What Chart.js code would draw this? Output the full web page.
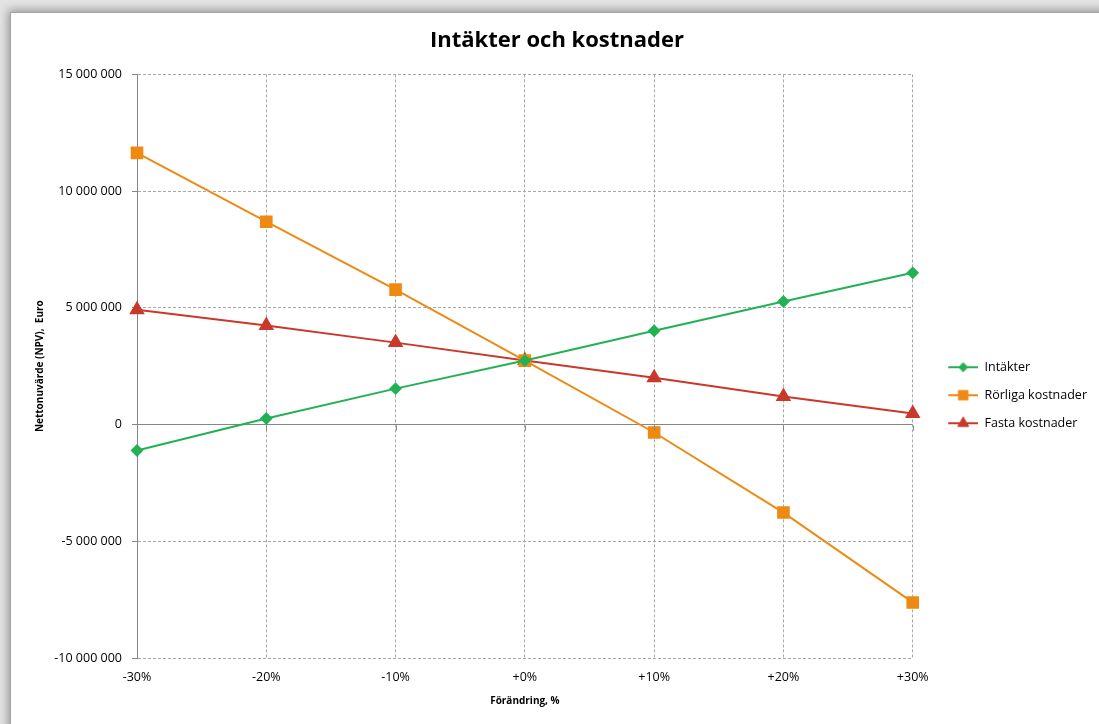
<!DOCTYPE html>
<html>
<head>
<meta charset="utf-8">
<title>Intäkter och kostnader</title>
<script src="https://cdn.jsdelivr.net/npm/chart.js@4/dist/chart.umd.min.js"></script>
<style>
  html, body { margin: 0; padding: 0; }
  body { width: 1099px; height: 724px; overflow: hidden; background: #e4e4e4; position: relative; }
  .frame {
    position: absolute; left: 10px; top: 12px; width: 1120px; height: 740px;
    background: #fff; border: 1px solid #a4a4a4;
    box-shadow: -2px -2px 9px rgba(0, 0, 0, 0.35);
  }
  #chart { position: absolute; left: 0; top: 0; }
</style>
</head>
<body>
<div class="frame"></div>
<canvas id="chart" width="1099" height="724"></canvas>
<script>
const categories = ['-30%', '-20%', '-10%', '+0%', '+10%', '+20%', '+30%'];
const intakter = [-1110000, 260000, 1540000, 2740000, 4020000, 5270000, 6500000];
const rorligaKostnader = [11640000, 8690000, 5780000, 2740000, -340000, -3770000, -7620000];
const fastaKostnader = [4920000, 4240000, 3510000, 2740000, 2010000, 1200000, 470000];

const FONT = "'Open Sans', 'DejaVu Sans', sans-serif";
const GRID = '#a8a8a8';
const AXIS = '#868686';

const fmtSpace = (v) => {
  const s = Math.abs(v).toString().replace(/\B(?=(\d{3})+(?!\d))/g, ' ');
  return (v < 0 ? '-' : '') + s;
};

// legend icon: short line with the series marker in the middle
function legendIcon(color, pointStyle, radius) {
  const c = document.createElement('canvas');
  c.width = 50;
  c.height = 16;
  const g = c.getContext('2d');
  g.strokeStyle = color;
  g.lineWidth = 2;
  g.beginPath();
  g.moveTo(20, 8);
  g.lineTo(50, 8);
  g.stroke();
  g.fillStyle = color;
  g.strokeStyle = color;
  g.lineWidth = 1;
  Chart.helpers.drawPoint(g, { pointStyle, radius, rotation: 0, borderWidth: 1 }, 35, 8);
  return c;
}

const series = [
  { label: 'Intäkter', data: intakter, color: '#22b153', pointStyle: 'rectRot', radius: 5 },
  { label: 'Rörliga kostnader', data: rorligaKostnader, color: '#ee8a12', pointStyle: 'rect', radius: 7.5 },
  { label: 'Fasta kostnader', data: fastaKostnader, color: '#c9392b', pointStyle: 'triangle', radius: 7 }
];

// small solid ticks under the zero line at each category
const zeroTicks = {
  id: 'zeroTicks',
  afterDraw(chart) {
    const { ctx, scales: { x, y } } = chart;
    const y0 = Math.round(y.getPixelForValue(0)) + 0.5;
    ctx.save();
    ctx.strokeStyle = AXIS;
    ctx.lineWidth = 1;
    ctx.beginPath();
    categories.forEach((c, i) => {
      const px = Math.round(x.getPixelForValue(i)) + 0.5;
      ctx.moveTo(px, y0);
      ctx.lineTo(px, y0 + 5);
    });
    ctx.stroke();
    ctx.restore();
  }
};

new Chart(document.getElementById('chart'), {
  type: 'line',
  data: {
    labels: categories,
    datasets: series.map(s => ({
      label: s.label,
      data: s.data,
      borderColor: s.color,
      backgroundColor: s.color,
      pointBackgroundColor: s.color,
      pointBorderColor: s.color,
      pointStyle: s.pointStyle,
      pointRadius: s.radius,
      pointHoverRadius: s.radius,
      borderWidth: 2,
      tension: 0,
      fill: false,
      clip: false
    }))
  },
  options: {
    responsive: false,
    animation: false,
    layout: { padding: { left: 17, top: 14, right: 2, bottom: 13 } },
    plugins: {
      title: {
        display: true,
        text: 'Intäkter och kostnader',
        color: '#000',
        font: { family: FONT, size: 22, weight: 'bold' },
        padding: { top: 14, bottom: 20 }
      },
      legend: {
        position: 'right',
        title: { display: true, text: '', padding: { top: 51, bottom: 0 } },
        labels: {
          color: '#000',
          font: { family: FONT, size: 12.5 },
          usePointStyle: true,
          pointStyleWidth: 50,
          padding: 15.5,
          generateLabels: (chart) => series.map((s, i) => ({
            text: s.label,
            pointStyle: legendIcon(s.color, s.pointStyle, s.radius * 0.9),
            fillStyle: s.color,
            strokeStyle: s.color,
            lineWidth: 0,
            fontColor: '#000',
            hidden: false,
            datasetIndex: i
          }))
        }
      },
      tooltip: { enabled: false }
    },
    scales: {
      x: {
        offset: false,
        afterFit: (scale) => { scale.height = 53; },
        grid: {
          color: GRID,
          drawTicks: false
        },
        border: { display: false, dash: [3, 2] },
        ticks: {
          color: '#000',
          padding: 12,
          maxRotation: 0,
          font: { family: FONT, size: 12.5 }
        },
        title: {
          display: true,
          text: 'Förändring, %',
          color: '#000',
          font: { family: FONT, size: 10, weight: 'bold' },
          padding: { top: 0, bottom: 4 }
        }
      },
      y: {
        min: -10000000,
        max: 15000000,
        afterFit: (scale) => { scale.width = 120; },
        ticks: {
          stepSize: 5000000,
          color: '#000',
          padding: 10,
          font: { family: FONT, size: 12.5 },
          callback: (v) => fmtSpace(v)
        },
        grid: {
          color: (ctx) => ctx.tick && ctx.tick.value === 0 ? AXIS : GRID,
          tickColor: AXIS,
          tickLength: 5
        },
        border: {
          display: true,
          color: AXIS,
          width: 1,
          dash: (ctx) => ctx.tick && ctx.tick.value === 0 ? [] : [3, 2]
        },
        title: {
          display: true,
          text: 'Nettonuvärde (NPV),  Euro',
          color: '#000',
          font: { family: FONT, size: 10, weight: 'bold' },
          padding: { top: 17, bottom: 0 }
        }
      }
    }
  },
  plugins: [zeroTicks]
});
</script>
</body>
</html>
